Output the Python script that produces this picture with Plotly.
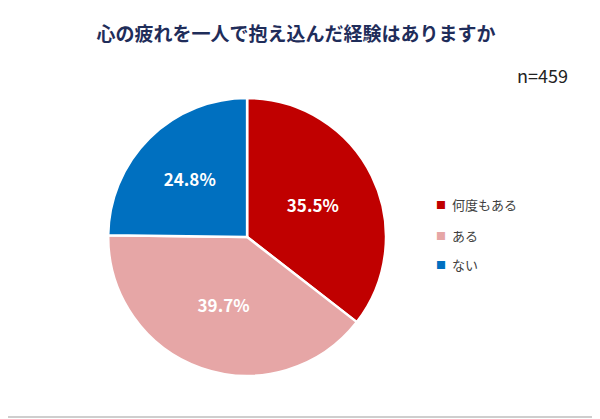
import plotly.graph_objects as go

labels = ["何度もある", "ある", "ない"]
values = [35.5, 39.7, 24.8]
colors = ["#C00000", "#E6A6A6", "#0070C0"]

fig = go.Figure(go.Pie(
    labels=labels, values=values, sort=False, direction="clockwise", rotation=0,
    marker=dict(colors=colors, line=dict(color="white", width=2.5)),
    texttemplate="<b>%{value:.1f}%</b>", textposition="inside",
    textfont=dict(color="white", size=17, family="Noto Sans CJK JP"),
    insidetextorientation="horizontal", showlegend=False,
    domain=dict(x=[0.167, 0.63], y=[0.122, 0.785]),
))
anns = [dict(text="n=459", x=0.937, y=0.84, xref="paper", yref="paper",
             xanchor="right", yanchor="middle", showarrow=False,
             font=dict(size=18, color="#222222"))]
ys = [0.530, 0.458, 0.387]
for lab, col, y in zip(labels, colors, ys):
    anns.append(dict(text="■", x=0.722, y=y, xref="paper", yref="paper", xanchor="center",
                     yanchor="middle", showarrow=False, font=dict(size=10, color=col)))
    anns.append(dict(text=lab, x=0.737, y=y, xref="paper", yref="paper", xanchor="left",
                     yanchor="middle", showarrow=False, font=dict(size=13, color="#404040")))
fig.update_layout(
    width=600, height=419, margin=dict(l=0, r=0, t=0, b=0),
    paper_bgcolor="white", plot_bgcolor="white",
    font=dict(family="Noto Sans CJK JP"),
    title=dict(text="<b>心の疲れを一人で抱え込んだ経験はありますか</b>", x=0.48, y=0.936,
               xanchor="center", yanchor="middle", font=dict(size=19, color="#1F2D5A")),
    annotations=anns,
    shapes=[dict(type="rect", xref="paper", yref="paper", x0=-0.01, y0=0.024, x1=0.983, y1=1.014,
                 line=dict(color="#BFBFBF", width=1.5))],
)
fig.write_html("out.html")
